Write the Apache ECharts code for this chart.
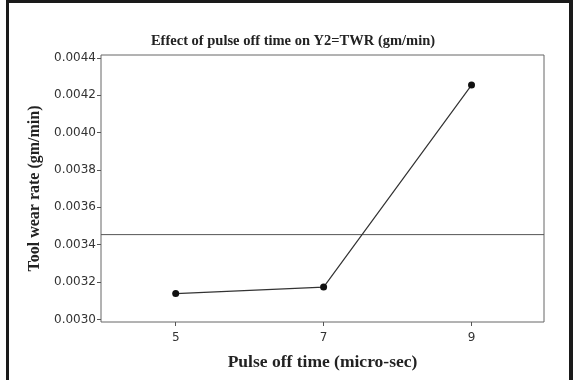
<!DOCTYPE html>
<html><head><meta charset="utf-8">
<script src="https://cdn.jsdelivr.net/npm/echarts@6/dist/echarts.min.js"></script>
<style>html,body{margin:0;padding:0;background:#fff}#c{width:573px;height:380px}</style>
</head><body><div id="c"></div>
<script>
const titleText = 'Effect of pulse off time on Y2=TWR (gm/min)';
const xName = 'Pulse off time (micro-sec)';
const yName = 'Tool wear rate (gm/min)';
const xLevels = [5, 7, 9];
const twrMeans = [0.003138, 0.003173, 0.004255];
const overallMean = 0.003454;
const yTicks = [0.0030, 0.0032, 0.0034, 0.0036, 0.0038, 0.0040, 0.0042, 0.0044];
const xTicks = [5, 7, 9];
const xMin = 3.99, xMax = 9.98;
const yMin = 0.002986, yMax = 0.004416;

const chart = echarts.init(document.getElementById('c'), null, {renderer: 'canvas'});
const labelFont = {fontFamily: 'DejaVu Sans', fontSize: 12, color: '#333'};
chart.setOption({
  animation: false,
  backgroundColor: '#fff',
  title: {
    text: titleText, left: 288, top: 29, textAlign: 'center',
    textStyle: {fontFamily: 'Liberation Serif', fontWeight: 'bold', fontSize: 14.5, color: '#222'}
  },
  graphic: [
    {type: 'rect', shape: {x: 6, y: 0, width: 3, height: 380}, style: {fill: '#1a1a1a'}},
    {type: 'rect', shape: {x: 6, y: 0, width: 567, height: 3}, style: {fill: '#1a1a1a'}},
    {type: 'rect', shape: {x: 569, y: 0, width: 4, height: 380}, style: {fill: '#1a1a1a'}}
  ],
  grid: {left: 101, right: 29, top: 55, bottom: 58, show: true, borderColor: '#666', borderWidth: 1, backgroundColor: 'transparent'},
  xAxis: {
    type: 'value', min: xMin, max: xMax,
    name: xName, nameLocation: 'middle', nameGap: 31,
    nameTextStyle: {fontFamily: 'Liberation Serif', fontWeight: 'bold', fontSize: 17.5, color: '#222'},
    axisLine: {show: false},
    splitLine: {show: false},
    axisTick: {show: true, length: 4, lineStyle: {color: '#555'}, customValues: xTicks},
    axisLabel: Object.assign({margin: 10, customValues: xTicks, formatter: v => String(v)}, labelFont)
  },
  yAxis: {
    type: 'value', min: yMin, max: yMax,
    name: yName, nameLocation: 'middle', nameGap: 52, nameRotate: 90,
    nameTextStyle: {fontFamily: 'Liberation Serif', fontWeight: 'bold', fontSize: 16, color: '#222'},
    axisLine: {show: false},
    splitLine: {show: false},
    axisTick: {show: true, length: 4, lineStyle: {color: '#555'}, customValues: yTicks},
    axisLabel: Object.assign({margin: 5, customValues: yTicks, formatter: v => v.toFixed(4)}, labelFont)
  },
  series: [{
    type: 'line',
    data: [[xMin, overallMean], [xMax, overallMean]],
    symbol: 'none', silent: true,
    lineStyle: {color: '#555', width: 1}
  }, {
    type: 'line',
    data: xLevels.map((x, i) => [x, twrMeans[i]]),
    symbol: 'circle', symbolSize: 7,
    itemStyle: {color: '#111'},
    lineStyle: {color: '#333', width: 1.2}
  }]
});
</script></body></html>
